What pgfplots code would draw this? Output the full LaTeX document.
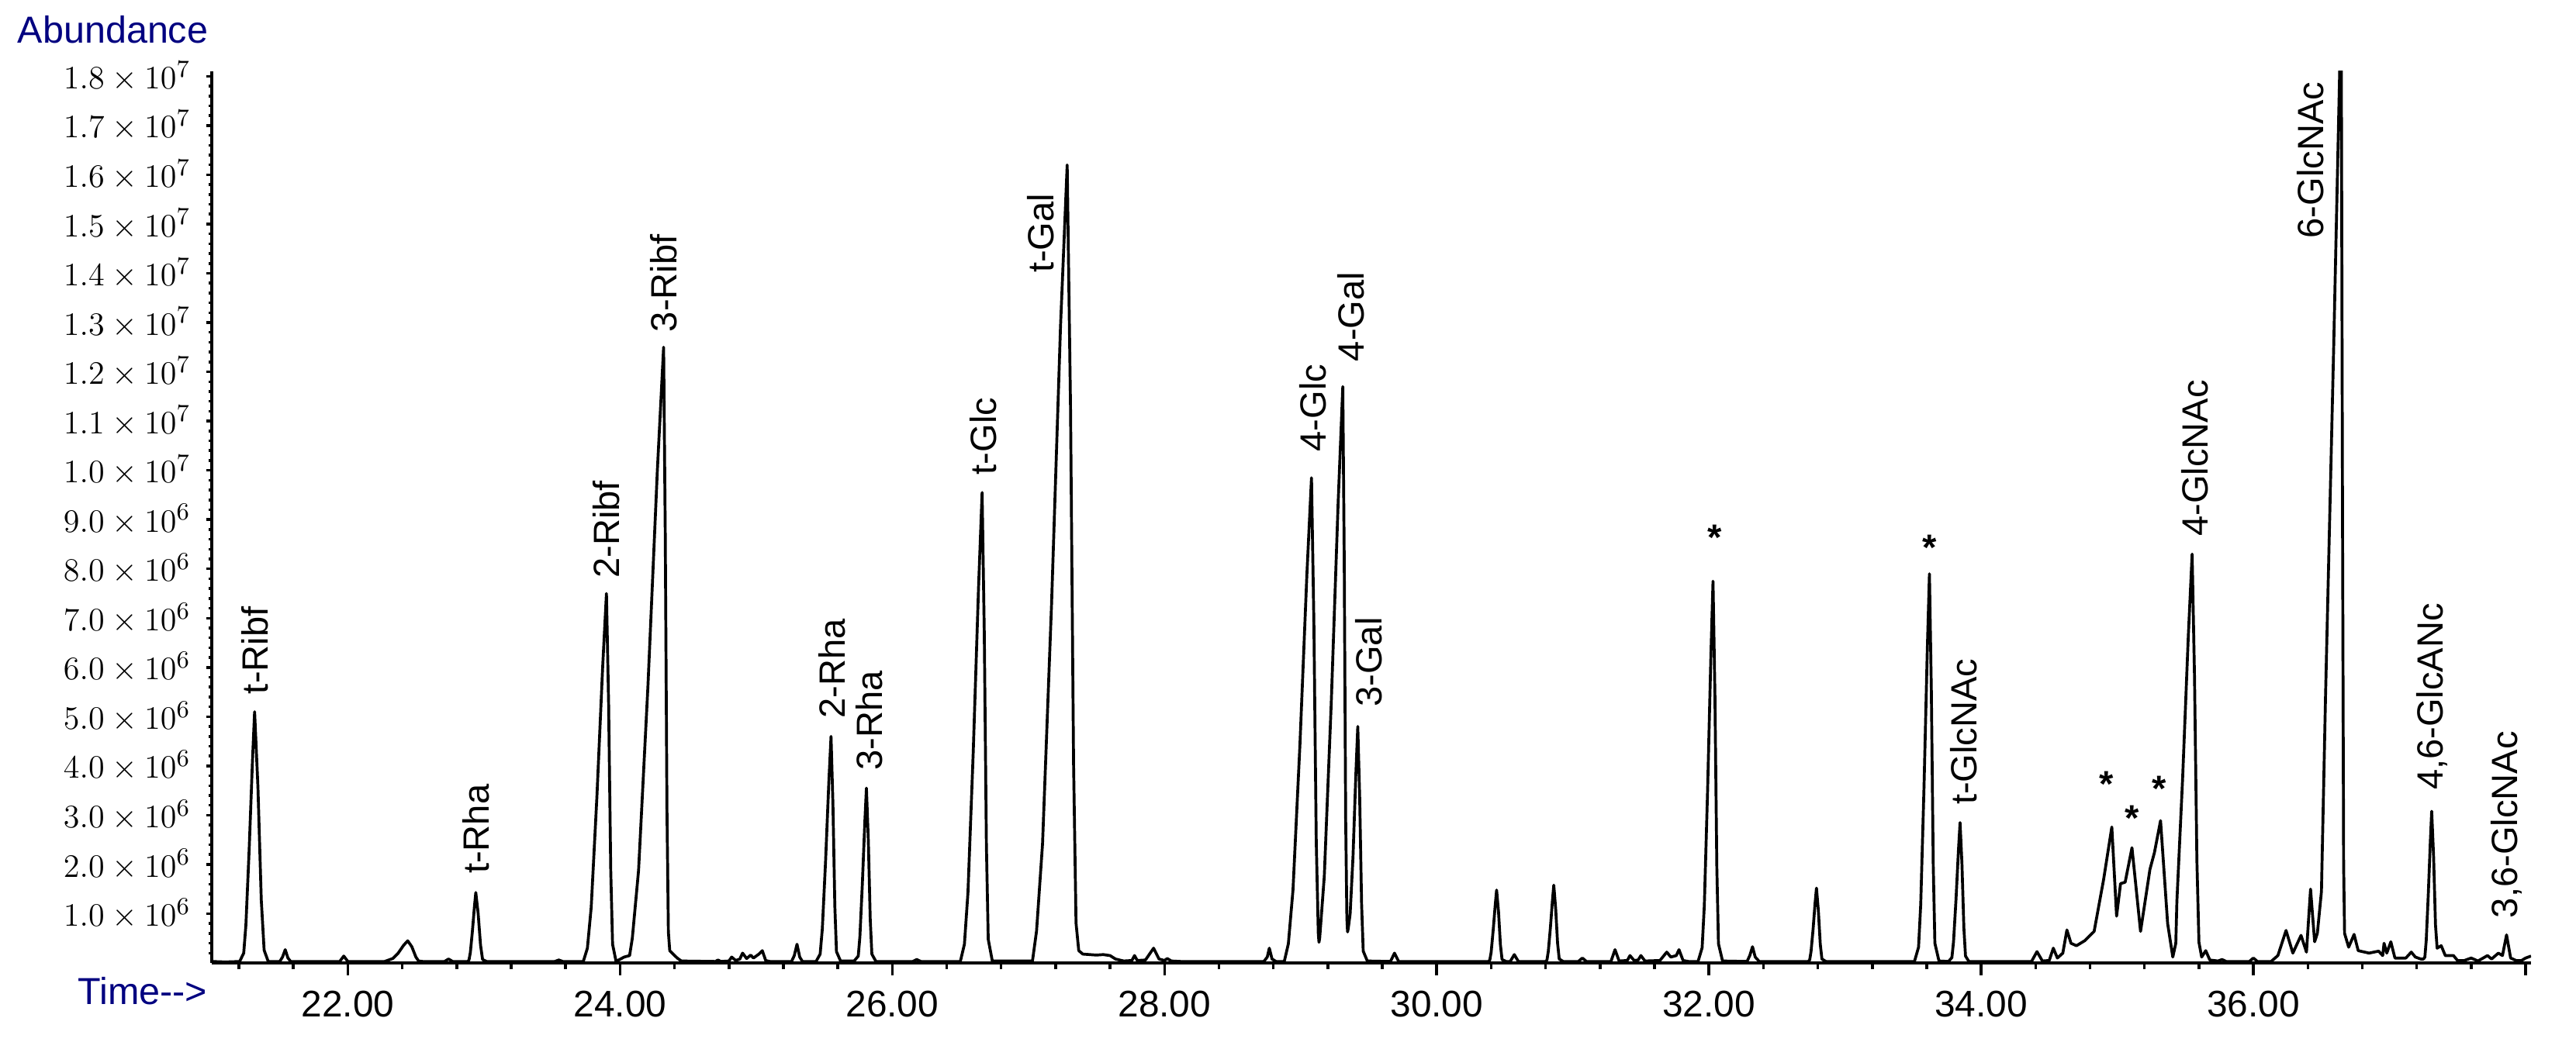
\documentclass[border=0pt]{standalone}
\usepackage{fontspec}
\setmainfont{Liberation Sans}
\usepackage{pgfplots}
\pgfplotsset{compat=1.18}
\definecolor{navy}{RGB}{0,0,128}
\newcommand\lab{\fontsize{13.4}{16}\selectfont}
% peak label, rotated, starting just above the peak
\newcommand\pk[3]{\node[rotate=90,anchor=west,inner sep=0pt,font=\lab] at (axis cs:#1,#2) {#3};}
\newcommand\st[2]{\node[anchor=north,inner sep=0pt,font=\lab\bfseries] at (axis cs:#1,#2) {*};}

\begin{document}
\begin{tikzpicture}
\begin{axis}[
  scale only axis, width=299mm, height=115mm,
  xmin=21.0, xmax=38.04, ymin=0, ymax=18.1,
  axis x line=bottom, axis y line=left,
  axis line style={-, line width=1.1pt},
  clip mode=individual,
  tick align=outside,
  tick style={black, line width=1pt},
  x tick style={/pgfplots/major tick length=1.6mm, /pgfplots/minor tick length=0.8mm},
  y tick style={/pgfplots/major tick length=0.7mm, /pgfplots/minor tick length=0.35mm},
  xtick={22,24,...,38},
  xticklabels={22.00,24.00,26.00,28.00,30.00,32.00,34.00,36.00,{}},
  minor xtick={21.2,21.6,...,38.0},
  xticklabel style={font=\fontsize{13.6}{16}\selectfont, yshift=-0.9mm},
  ytick={1,2,...,18},
  yticklabels={$1.0\times10^{6}$,$2.0\times10^{6}$,$3.0\times10^{6}$,$4.0\times10^{6}$,
    $5.0\times10^{6}$,$6.0\times10^{6}$,$7.0\times10^{6}$,$8.0\times10^{6}$,$9.0\times10^{6}$,
    $1.0\times10^{7}$,$1.1\times10^{7}$,$1.2\times10^{7}$,$1.3\times10^{7}$,$1.4\times10^{7}$,
    $1.5\times10^{7}$,$1.6\times10^{7}$,$1.7\times10^{7}$,$1.8\times10^{7}$},
  minor ytick={0.2,0.4,...,18.0},
  yticklabel style={font=\fontsize{13}{16}\selectfont},
]
% abundance in units of 10^6
\addplot[black, line width=1.05pt, line join=round, mark=none] coordinates {
(21.0,0.03) (21.1,0.02)
(21.205,0.03) (21.235,0.2) (21.251,0.77) (21.275,2.3) (21.299,4.08) (21.315,5.1) (21.3395,3.57) (21.364,1.28) (21.385,0.26) (21.415,0.03)
(21.50,0.03) (21.52,0.12) (21.54,0.27) (21.56,0.1) (21.58,0.03)
(21.94,0.03) (21.97,0.14) (22.0,0.03)
(22.27,0.03) (22.30,0.06) (22.33,0.09) (22.37,0.2) (22.41,0.36) (22.44,0.45) (22.47,0.33) (22.50,0.12) (22.52,0.04) (22.55,0.03)
(22.71,0.03) (22.74,0.08) (22.77,0.03)
(22.88,0.03) (22.89,0.06) (22.90,0.21) (22.915,0.64) (22.93,1.14) (22.94,1.43) (22.9575,1.0) (22.975,0.36) (22.99,0.07) (23.02,0.03)
(23.52,0.03) (23.55,0.06) (23.58,0.03)
(23.73,0.03) (23.76,0.3) (23.788,1.13) (23.83,3.38) (23.872,6.0) (23.90,7.5) (23.916,5.25) (23.9315,1.88) (23.945,0.38) (23.97,0.04)
(23.99,0.06) (24.03,0.12) (24.07,0.15) (24.09,0.5) (24.136,1.88) (24.205,5.63) (24.274,10.0) (24.32,12.5) (24.332,8.75) (24.3445,3.13) (24.355,0.63)
(24.365,0.25) (24.39,0.18) (24.42,0.1) (24.45,0.04)
(24.70,0.03) (24.72,0.06) (24.74,0.03) (24.80,0.04) (24.82,0.12) (24.85,0.05) (24.88,0.08) (24.90,0.2) (24.93,0.09) (24.96,0.16) (24.98,0.1) (25.02,0.18) (25.045,0.25) (25.07,0.05) (25.1,0.03)
(25.26,0.03) (25.28,0.15) (25.30,0.38) (25.32,0.12) (25.34,0.03)
(25.44,0.03) (25.47,0.18) (25.486,0.69) (25.51,2.07) (25.534,3.68) (25.55,4.6) (25.564,3.22) (25.578,1.15) (25.59,0.23) (25.62,0.04)
(25.72,0.04) (25.75,0.14) (25.762,0.53) (25.78,1.6) (25.798,2.84) (25.81,3.55) (25.824,2.49) (25.838,0.89) (25.85,0.18) (25.88,0.03)
(26.15,0.03) (26.18,0.07) (26.21,0.03)
(26.50,0.03) (26.53,0.38) (26.556,1.43) (26.595,4.3) (26.634,7.64) (26.66,9.55) (26.676,6.69) (26.6915,2.39) (26.705,0.48) (26.735,0.04)
(27.03,0.04) (27.06,0.65) (27.104,2.42) (27.17,7.27) (27.236,12.92) (27.285,16.2) (27.3095,11.3) (27.332,4.04) (27.35,0.81)
(27.37,0.25) (27.40,0.18) (27.45,0.17) (27.50,0.16) (27.55,0.17) (27.60,0.15) (27.64,0.08) (27.70,0.04) (27.76,0.05) (27.78,0.15) (27.80,0.05)
(27.86,0.06) (27.92,0.3) (27.96,0.08) (28.0,0.05) (28.02,0.09) (28.05,0.04) (28.12,0.03)
(28.73,0.03) (28.755,0.12) (28.77,0.3) (28.79,0.08) (28.82,0.03)
(28.88,0.03) (28.91,0.39) (28.944,1.48) (28.995,4.43) (29.046,7.88) (29.08,9.85) (29.0975,6.9) (29.115,2.46) (29.13,0.6) (29.135,0.42)
(29.14,0.5) (29.174,1.76) (29.225,5.27) (29.276,9.36) (29.31,11.7) (29.3205,8.19) (29.331,2.93) (29.34,0.9) (29.345,0.63)
(29.35,0.7) (29.364,1.0) (29.385,2.16) (29.406,3.84) (29.42,4.8) (29.434,3.36) (29.448,1.2) (29.46,0.24) (29.49,0.04)
(29.66,0.03) (29.69,0.2) (29.72,0.03)
(30.38,0.03) (30.39,0.06) (30.40,0.22) (30.415,0.67) (30.43,1.18) (30.44,1.48) (30.454,1.04) (30.468,0.37) (30.48,0.07) (30.51,0.03)
(30.54,0.03) (30.57,0.17) (30.60,0.03)
(30.80,0.03) (30.81,0.06) (30.82,0.24) (30.835,0.71) (30.85,1.26) (30.86,1.58) (30.874,1.1) (30.888,0.4) (30.90,0.08) (30.93,0.03)
(31.04,0.03) (31.07,0.1) (31.10,0.03) (31.28,0.03) (31.31,0.27) (31.34,0.04) (31.40,0.05) (31.42,0.15) (31.45,0.05) (31.48,0.06) (31.50,0.15) (31.53,0.04)
(31.64,0.05) (31.69,0.22) (31.72,0.12) (31.76,0.15) (31.78,0.27) (31.81,0.05) (31.85,0.03)
(31.92,0.03) (31.95,0.31) (31.966,1.16) (31.99,3.49) (32.014,6.2) (32.03,7.75) (32.044,5.43) (32.058,1.94) (32.07,0.39) (32.10,0.04)
(32.28,0.03) (32.30,0.15) (32.32,0.33) (32.34,0.12) (32.37,0.03)
(32.73,0.03) (32.74,0.06) (32.75,0.23) (32.765,0.68) (32.78,1.22) (32.79,1.52) (32.804,1.06) (32.818,0.38) (32.83,0.08) (32.86,0.03)
(33.51,0.03) (33.54,0.32) (33.556,1.19) (33.58,3.56) (33.604,6.32) (33.62,7.9) (33.634,5.53) (33.648,1.98) (33.66,0.4) (33.69,0.04)
(33.76,0.03) (33.785,0.11) (33.797,0.43) (33.815,1.28) (33.833,2.28) (33.845,2.85) (33.859,2.0) (33.873,0.71) (33.885,0.14) (33.91,0.03)
(34.37,0.03) (34.41,0.23) (34.45,0.04) (34.50,0.05) (34.53,0.3) (34.56,0.1) (34.60,0.2) (34.63,0.67) (34.66,0.4) (34.70,0.35) (34.76,0.45)
(34.83,0.64) (34.90,1.7) (34.96,2.76) (34.995,0.95) (35.024,1.61) (35.058,1.64) (35.108,2.34) (35.171,0.64) (35.24,1.9) (35.273,2.24) (35.318,2.89) (35.37,0.8) (35.408,0.12)
(35.43,0.4) (35.438,1.25) (35.48,3.74) (35.522,6.64) (35.55,8.3) (35.5675,5.81) (35.585,2.08) (35.60,0.42) (35.62,0.12)
(35.65,0.25) (35.68,0.06) (35.74,0.04) (35.77,0.07) (35.80,0.03) (35.97,0.03) (36.0,0.1) (36.03,0.03) (36.13,0.03) (36.18,0.15)
(36.24,0.66) (36.29,0.2) (36.35,0.56) (36.39,0.22) (36.42,1.5) (36.45,0.43)
(36.47,0.6) (36.50,1.45) (36.53,5.4) (36.59,12.5) (36.645,19.5) (36.655,9.0) (36.663,2.0) (36.67,0.6) (36.70,0.32) (36.74,0.58) (36.77,0.25)
(36.85,0.2) (36.92,0.24) (36.95,0.15) (36.96,0.4) (36.98,0.2) (37.01,0.43) (37.04,0.1) (37.12,0.1) (37.16,0.22) (37.19,0.12) (37.23,0.08)
(37.25,0.08) (37.26,0.12) (37.27,0.46) (37.285,1.39) (37.30,2.46) (37.31,3.08) (37.324,2.16) (37.338,0.77) (37.35,0.3) (37.38,0.35) (37.41,0.15)
(37.47,0.15) (37.50,0.05) (37.55,0.05) (37.60,0.1) (37.65,0.04) (37.72,0.15) (37.75,0.08) (37.80,0.2) (37.83,0.15) (37.86,0.57) (37.89,0.1)
(37.93,0.05) (37.97,0.05) (38.0,0.1) (38.04,0.14)
};
\pk{21.315}{5.45}{t-Ribf}
\pk{22.94}{1.8}{t-Rha}
\pk{23.90}{7.8}{2-Ribf}
\pk{24.32}{12.8}{3-Ribf}
\pk{25.56}{4.95}{2-Rha}
\pk{25.83}{3.9}{3-Rha}
\pk{26.67}{9.9}{t-Glc}
\pk{27.09}{14.0}{t-Gal}
\pk{29.09}{10.37}{4-Glc}
\pk{29.37}{12.2}{4-Gal}
\pk{29.50}{5.19}{3-Gal}
\pk{33.87}{3.2}{t-GlcNAc}
\pk{35.57}{8.65}{4-GlcNAc}
\pk{36.42}{14.7}{6-GlcNAc}
\pk{37.31}{3.5}{4,6-GlcANc}
\pk{37.86}{0.9}{3,6-GlcNAc}
\st{32.04}{8.9}
\st{33.62}{8.7}
\st{34.92}{3.9}
\st{35.11}{3.2}
\st{35.31}{3.8}
\node[anchor=base west, inner sep=0pt, font=\fontsize{13.8}{16}\selectfont, text=navy] at (rel axis cs:-0.0839,1.032) {Abundance};
\node[anchor=base west, inner sep=0pt, font=\fontsize{13.8}{16}\selectfont, text=navy] at (rel axis cs:-0.0579,-0.0461) {Time-{}-{}>};
\coordinate (bbll) at (rel axis cs:-0.0913,-0.0965);
\coordinate (bbur) at (rel axis cs:1.0194,1.08);
\end{axis}
\path (bbll) rectangle (bbur);
\end{tikzpicture}
\end{document}
